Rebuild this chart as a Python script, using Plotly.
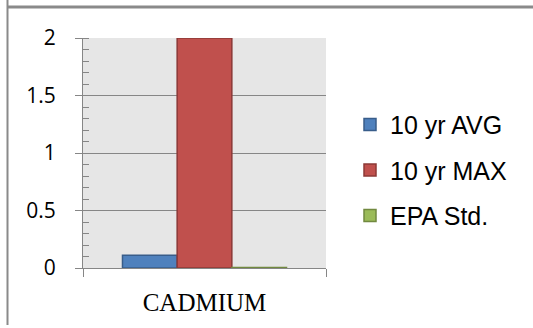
import plotly.graph_objects as go

# Cadmium concentrations (mg/L)
categories = ["CADMIUM"]
series_names = ["10 yr AVG", "10 yr MAX", "EPA Std."]
avg_10yr = [0.11]
max_10yr = [2.0]
epa_std = [0.005]

fills = ["#4F81BD", "#C0504D", "#9BBB59"]
edges = ["#385D8A", "#8C3836", "#71893F"]

fig = go.Figure()
for i, (name, vals) in enumerate(zip(series_names, [avg_10yr, max_10yr, epa_std])):
    fig.add_trace(go.Bar(
        x=categories, y=vals, name=name,
        legendgroup=f"g{i}",
        marker=dict(color=fills[i], line=dict(color=edges[i], width=1.5)),
    ))

W, H = 533, 328
L, R, T, B = 83, 207, 38, 56
pw, ph = W - L - R, H - T - B

def px_x(px):
    return (px - L) / pw

def px_y(py):
    return (H - B - py) / ph

axis_grey = "#868686"

fig.update_layout(
    width=W, height=H,
    margin=dict(l=L, r=R, t=T, b=B, pad=0),
    paper_bgcolor="white",
    plot_bgcolor="#e6e6e6",
    barmode="group",
    bargap=0.325,
    bargroupgap=0,
    showlegend=True,
    legend=dict(
        x=px_x(350), xanchor="left",
        y=px_y(172.5), yanchor="middle",
        font=dict(family="Liberation Sans", size=25, color="black"),
        traceorder="grouped",
        tracegroupgap=10,
        bgcolor="rgba(0,0,0,0)",
        itemwidth=30,
    ),
    xaxis=dict(
        type="category",
        showline=True, linecolor=axis_grey, linewidth=1,
        ticks="outside", ticklen=8, tickcolor=axis_grey, tickwidth=1,
        tickson="boundaries",
        showgrid=False, zeroline=False,
        tickfont=dict(family="Liberation Serif", size=25, color="black"),
        ticklabelstandoff=12,
    ),
    yaxis=dict(
        range=[0, 2], dtick=0.5, tick0=0,
        showline=True, linecolor=axis_grey, linewidth=1,
        ticks="outside", ticklen=7, tickcolor=axis_grey, tickwidth=1,
        showgrid=True, gridcolor=axis_grey, gridwidth=1,
        zeroline=False,
        tickfont=dict(family="Open Sans", size=21, color="black"),
        ticklabelstandoff=15,
        minor=dict(ticks="inside", ticklen=6, dtick=0.1, tickcolor=axis_grey,
                   tickwidth=1, showgrid=False),
    ),
    shapes=[
        # frame: top rule and left rule
        dict(type="line", xref="paper", yref="paper",
             x0=px_x(7), x1=px_x(W + 5), y0=px_y(6.5), y1=px_y(6.5),
             line=dict(color="#8a8a8a", width=3)),
        dict(type="line", xref="paper", yref="paper",
             x0=px_x(7.5), x1=px_x(7.5), y0=px_y(-2), y1=px_y(H + 2),
             line=dict(color="#8a8a8a", width=2)),
    ],
)

fig.write_html("out.html")
